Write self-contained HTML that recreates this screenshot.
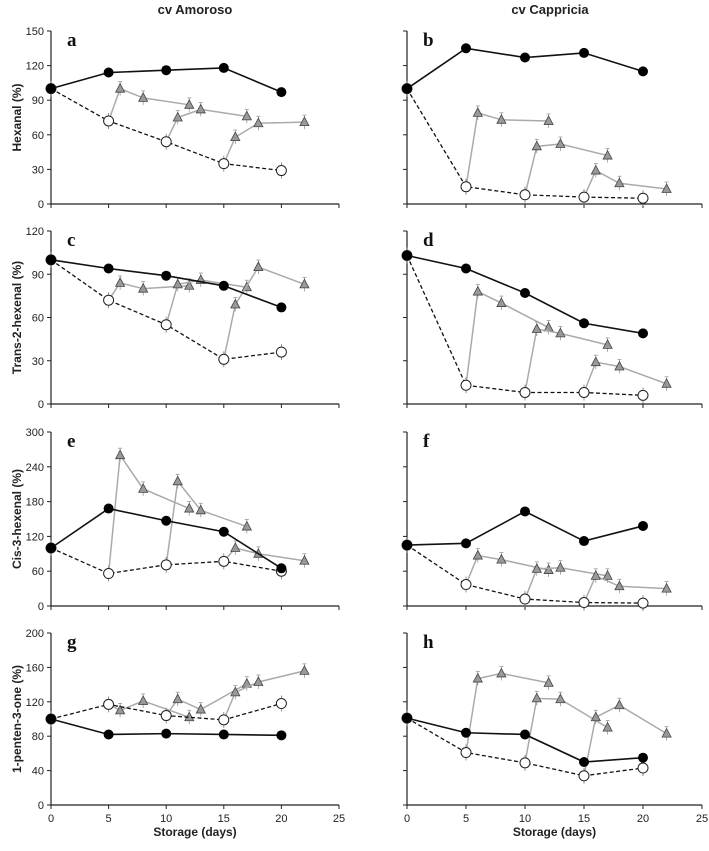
<!DOCTYPE html>
<html><head><meta charset="utf-8"><style>
html,body{margin:0;padding:0;background:#fff;}
svg{display:block;font-family:"Liberation Sans",Arial,sans-serif;}
.ttl{font-weight:bold;}
</style></head><body>
<svg id="fig" width="709" height="851" viewBox="0 0 709 851"></svg>
<script>
const days=[0,5,10,15,20];
const segDays=[[6,8,12],[11,13,17],[16,18,22]];
const xTicks=[0,5,10,15,20,25];
// panel data
const aBlack=[100,114,116,118,97], aOpen=[100,72,54,35,29], aTri=[[100,92,86],[75,82,76],[58,70,71]];
const bBlack=[100,135,127,131,115], bOpen=[100,15,8,6,5], bTri=[[79,73,72],[50,52,42],[29,18,13]];
const cBlack=[100,94,89,82,67], cOpen=[100,72,55,31,36], cTri=[[84,80,82],[83,86,81],[69,95,83]];
const dBlack=[103,94,77,56,49], dOpen=[103,13,8,8,6], dTri=[[78,70,53],[52,49,41],[29,26,14]];
const eBlack=[100,168,147,128,65], eOpen=[100,56,71,77,60], eTri=[[260,202,168],[215,165,137],[100,90,78]];
const fBlack=[105,108,163,112,138], fOpen=[105,37,12,6,5], fTri=[[87,80,62],[64,66,52],[52,34,30]];
const gBlack=[100,82,83,82,81], gOpen=[100,117,104,99,118], gTri=[[110,121,102],[123,111,141],[131,143,156]];
const hBlack=[101,84,82,50,55], hOpen=[101,61,49,34,43], hTri=[[147,153,142],[124,123,90],[102,116,83]];
const yMaxes=[150,120,300,200];
const yTicksAll=[[0,30,60,90,120,150],[0,30,60,90,120],[0,60,120,180,240,300],[0,40,80,120,160,200]];
const yTitles=["Hexanal (%)","Trans-2-hexenal (%)","Cis-3-hexenal (%)","1-penten-3-one (%)"];
const letters=["a","b","c","d","e","f","g","h"];
const panels=[[aBlack,aOpen,aTri],[bBlack,bOpen,bTri],[cBlack,cOpen,cTri],[dBlack,dOpen,dTri],[eBlack,eOpen,eTri],[fBlack,fOpen,fTri],[gBlack,gOpen,gTri],[hBlack,hOpen,hTri]];

const NS="http://www.w3.org/2000/svg";
const svg=document.getElementById('fig');
function mk(tag,attrs,parent,text){const e=document.createElementNS(NS,tag);for(const k in attrs)e.setAttribute(k,attrs[k]);if(text!==undefined)e.textContent=text;(parent||svg).appendChild(e);return e;}
const tops=[31,231,432,633], bots=[204,404,606,805];
const colX=[[51,339],[407,702]];

let ct=mk('text',{x:195,y:14,'text-anchor':'middle','font-size':13,'class':'ttl',fill:'#222'},svg,"cv Amoroso");

ct=mk('text',{x:550,y:14,'text-anchor':'middle','font-size':13,'class':'ttl',fill:'#222'},svg,"cv Cappricia");


for(let p=0;p<8;p++){
  const row=Math.floor(p/2), col=p%2;
  const x0=colX[col][0], x1=colX[col][1], yT=tops[row], yB=bots[row], ym=yMaxes[row];
  const X=d=>x0+(x1-x0)*d/25, Y=v=>yB-(yB-yT)*v/ym;
  const g=mk('g',{});
  
  
  mk('line',{x1:x0,y1:yT,x2:x0,y2:yB,stroke:'#222','stroke-width':1.2},g);
  mk('line',{x1:x0,y1:yB,x2:x1,y2:yB,stroke:'#222','stroke-width':1.2},g);
  for(const v of yTicksAll[row]){
    mk('line',{x1:x0-4,y1:Y(v),x2:x0,y2:Y(v),stroke:'#222'},g);
    if(col===0){const e=mk('text',{x:x0-7,y:Y(v)+4,'font-size':11,'text-anchor':'end',fill:'#222'},g,String(v));
      }
  }
  for(const d of xTicks){
    mk('line',{x1:X(d),y1:yB,x2:X(d),y2:yB+4,stroke:'#222'},g);
    if(row===3){const e=mk('text',{x:X(d),y:yB+17,'font-size':11,'text-anchor':'middle',fill:'#222'},g,String(d));
      }
  }
  if(row===3){const e=mk('text',{x:(x0+x1)/2,y:836,'font-size':12,'class':'ttl','text-anchor':'middle',fill:'#222'},g,'Storage (days)');
    }
  if(col===0){const cy=(yT+yB)/2;const e=mk('text',{x:21,y:cy,'font-size':12,'class':'ttl','text-anchor':'middle',fill:'#222',transform:'rotate(-90 21 '+cy+')'},g,yTitles[row]);
    }
  const L=mk('text',{x:x0+16,y:yT+15,'font-size':19,'class':'ttl','font-family':'Liberation Serif,serif',fill:'#111'},g,letters[p]);
  
  const [blk,opn,tri]=panels[p];
  for(let s=0;s<3;s++){
    let pts=[[X(days[s+1]),Y(opn[s+1])]];
    for(let k=0;k<3;k++)pts.push([X(segDays[s][k]),Y(tri[s][k])]);
    const pl=mk('polyline',{points:pts.map(q=>q.join(',')).join(' '),fill:'none',stroke:'#aaa','stroke-width':1.5},g);
    
    for(let k=0;k<3;k++){
      const cx=X(segDays[s][k]), cy=Y(tri[s][k]);
      mk('line',{x1:cx,y1:cy-7,x2:cx,y2:cy+7,stroke:'#999','stroke-width':0.8},g);
      mk('line',{x1:cx-2,y1:cy-7,x2:cx+2,y2:cy-7,stroke:'#999','stroke-width':0.8},g);
      const tr=mk('polygon',{points:`${cx},${cy-5} ${cx-4.5},${cy+3.5} ${cx+4.5},${cy+3.5}`,fill:'#999',stroke:'#444','stroke-width':0.8},g);
      
    }
  }
  const op=mk('polyline',{points:days.map((d,i)=>X(d)+','+Y(opn[i])).join(' '),fill:'none',stroke:'#111','stroke-width':1.3,'stroke-dasharray':'4,2.5'},g);
  
  const bl=mk('polyline',{points:days.map((d,i)=>X(d)+','+Y(blk[i])).join(' '),fill:'none',stroke:'#111','stroke-width':1.6},g);
  
  days.forEach((d,i)=>{
    mk('line',{x1:X(d),y1:Y(opn[i])-8,x2:X(d),y2:Y(opn[i])+8,stroke:'#777','stroke-width':0.8},g);
    const c=mk('circle',{cx:X(d),cy:Y(opn[i]),r:5,fill:'#fff',stroke:'#222','stroke-width':1},g);
    
    const b=mk('circle',{cx:X(d),cy:Y(blk[i]),r:5,fill:'#000'},g);
    
  });
}
</script>
</body></html>
